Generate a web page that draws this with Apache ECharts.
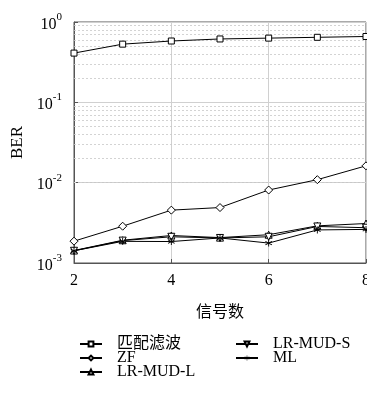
<!DOCTYPE html>
<html><head><meta charset="utf-8">
<script src="https://cdn.jsdelivr.net/npm/echarts@6/dist/echarts.min.js"></script>
<style>html,body{margin:0;padding:0;background:#fff}#c{width:367px;height:396px}</style>
</head><body><div id="c"></div>
<script>
const xValues = [2, 3, 4, 5, 6, 7, 8];
const seriesNames = ['匹配滤波', 'ZF', 'LR-MUD-L', 'LR-MUD-S', 'ML'];
const mfBER   = [0.41, 0.53, 0.58, 0.615, 0.63, 0.645, 0.66];
const zfBER   = [1.87e-3, 2.87e-3, 4.55e-3, 4.9e-3, 8.1e-3, 1.09e-2, 1.62e-2];
const lrlBER  = [1.43e-3, 1.92e-3, 2.2e-3, 2.07e-3, 2.25e-3, 2.9e-3, 3.1e-3];
const lrsBER  = [1.42e-3, 1.9e-3, 2.12e-3, 2.05e-3, 2.12e-3, 2.85e-3, 2.75e-3];
const mlBER   = [1.42e-3, 1.86e-3, 1.85e-3, 2.05e-3, 1.77e-3, 2.58e-3, 2.62e-3];
const xTicks = [2, 4, 6, 8];
const yDecades = [1e-3, 1e-2, 1e-1, 1];

const SERIF = '"Liberation Serif", "DejaVu Serif", serif';
const CJK = '"Noto Sans CJK SC", sans-serif';
const STAR = 'path://M-1.2,-10L1.2,-10L1.2,10L-1.2,10Z M-9.26,-3.96L-8.06,-6.04L9.26,3.96L8.06,6.04Z M8.06,-6.04L9.26,-3.96L-8.06,6.04L-9.26,3.96Z';

const minorLines = [];
for (let k = -3; k < 0; k++) for (let m = 2; m <= 9; m++) minorLines.push({ yAxis: m * Math.pow(10, k) });

function mk(name, data, symbol, size, filled) {
  return {
    name, type: 'line', data: xValues.map((x, i) => [x, data[i]]),
    symbol, symbolSize: size, showSymbol: true,
    lineStyle: { color: '#000', width: 1 },
    itemStyle: filled ? { color: '#000', borderWidth: 0 } : { color: '#fff', borderColor: '#000', borderWidth: 1 },
    z: 3
  };
}
const series = [
  mk(seriesNames[0], mfBER, 'rect', 6, false),
  mk(seriesNames[1], zfBER, 'diamond', 8, false),
  mk(seriesNames[2], lrlBER, 'triangle', 7, false),
  mk(seriesNames[3], lrsBER, 'path://M-5,-4L5,-4L0,5Z', 7, false),
  mk(seriesNames[4], mlBER, STAR, 7, true)
];
series[0].markLine = {
  silent: true, symbol: 'none', label: { show: false },
  lineStyle: { color: '#c8c8c8', type: [2, 2], width: 0.8 },
  data: minorLines, animation: false, z: 1
};

const legendText = { fontFamily: SERIF + ', ' + CJK, fontSize: 16, color: '#000', lineHeight: 14, padding: [0, 0, 0, 10] };
const chart = echarts.init(document.getElementById('c'), null, { renderer: 'canvas' });
chart.setOption({
  animation: false,
  backgroundColor: '#fff',
  grid: { left: 74, right: 1, top: 22, bottom: 133, outerBoundsMode: 'none', containLabel: false,
          show: true, borderColor: '#555', borderWidth: 1, backgroundColor: 'transparent' },
  xAxis: {
    type: 'value', min: 2, max: 8, interval: 2,
    name: '信号数', nameLocation: 'middle', nameGap: 40,
    nameTextStyle: { fontFamily: CJK, fontSize: 16, color: '#000' },
    axisLine: { show: true, lineStyle: { color: '#555' } },
    axisTick: { inside: true, length: 4, lineStyle: { color: '#555' } },
    axisLabel: { fontFamily: SERIF, fontSize: 16, color: '#000', margin: 10, hideOverlap: false },
    splitLine: { show: true, lineStyle: { color: '#d0d0d0', width: 1 } }
  },
  yAxis: {
    type: 'log', logBase: 10, min: 1e-3, max: 1,
    name: 'BER', nameLocation: 'middle', nameGap: 48, nameRotate: 90,
    nameTextStyle: { fontFamily: SERIF, fontSize: 17, color: '#000' },
    axisLine: { show: true, lineStyle: { color: '#555' } },
    axisTick: { inside: true, length: 4, lineStyle: { color: '#555' } },
    axisLabel: {
      margin: 12,
      formatter: v => '{b|10}{s|' + Math.round(Math.log10(v)) + '}',
      rich: {
        b: { fontFamily: SERIF, fontSize: 16, color: '#000', verticalAlign: 'bottom' },
        s: { fontFamily: SERIF, fontSize: 11, color: '#000', verticalAlign: 'top', padding: [0, 0, 10, 0] }
      }
    },
    splitLine: { show: true, lineStyle: { color: '#d0d0d0', width: 1 } }
  },
  legend: [
    {
      data: seriesNames.slice(0, 3), orient: 'vertical', left: 79, top: 336, height: 60, padding: 0,
      itemWidth: 22, itemHeight: 6, itemGap: -2, textStyle: legendText
    },
    {
      data: seriesNames.slice(3), orient: 'vertical', left: 235, top: 336, height: 60, padding: 0,
      itemWidth: 22, itemHeight: 6, itemGap: -2, textStyle: legendText
    }
  ],
  series
});
</script></body></html>
